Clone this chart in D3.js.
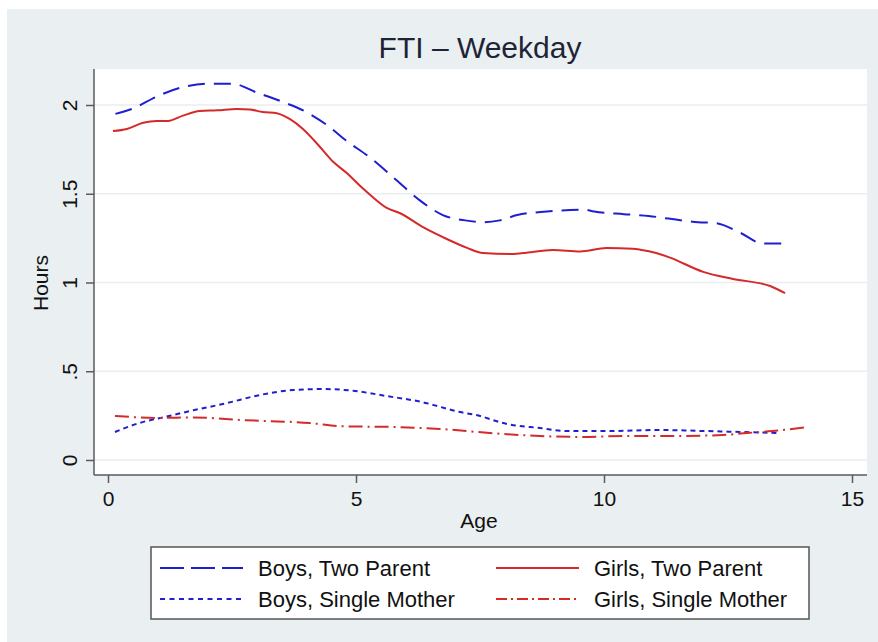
<!DOCTYPE html>
<html>
<head>
<meta charset="utf-8">
<script src="https://cdn.jsdelivr.net/npm/d3@7"></script>
<style>
  body { margin: 0; background: #fff; }
  text { font-family: "Liberation Sans", Arial, sans-serif; }
</style>
</head>
<body>
<div id="chart"></div>
<script>
// Data (age in years, hours)
const boysTwoAges = [0.15, 0.5, 1, 1.5, 2, 2.5, 3, 3.5, 4, 4.4, 4.8, 5.3, 5.8, 6.3, 6.75, 7.2, 7.6, 7.9, 8.25, 8.85, 9.6, 9.8, 10.4, 10.9, 11.3, 11.9, 12.25, 12.75, 13.2, 13.6];
const boysTwoHours = [1.95, 1.98, 2.05, 2.10, 2.12, 2.12, 2.07, 2.02, 1.96, 1.89, 1.80, 1.70, 1.58, 1.46, 1.38, 1.35, 1.34, 1.35, 1.38, 1.40, 1.41, 1.40, 1.385, 1.375, 1.36, 1.34, 1.335, 1.28, 1.22, 1.22];

const girlsTwoAges = [0.1, 0.38, 0.71, 0.98, 1.21, 1.51, 1.85, 2.2, 2.6, 2.86, 3.12, 3.4, 3.67, 3.93, 4.27, 4.54, 4.82, 5.08, 5.3, 5.62, 5.89, 6.36, 6.83, 7.24, 7.56, 8.1, 8.37, 8.97, 9.52, 10.05, 10.58, 10.73, 11.07, 11.33, 12.0, 12.6, 13.35, 13.65];
const girlsTwoHours = [1.853, 1.865, 1.90, 1.91, 1.91, 1.94, 1.966, 1.97, 1.978, 1.975, 1.96, 1.954, 1.92, 1.865, 1.765, 1.68, 1.615, 1.545, 1.49, 1.42, 1.39, 1.31, 1.245, 1.195, 1.166, 1.16, 1.166, 1.183, 1.175, 1.194, 1.19, 1.185, 1.165, 1.14, 1.06, 1.02, 0.98, 0.94];

const boysSingleAges = [0.14, 0.65, 1.11, 1.72, 2.39, 3.06, 3.73, 4.34, 4.94, 5.62, 6.43, 6.69, 7.1, 7.4, 8.04, 8.71, 9.25, 10.05, 11.07, 12.07, 12.74, 13.55];
const boysSingleHours = [0.158, 0.21, 0.24, 0.28, 0.32, 0.366, 0.394, 0.40, 0.39, 0.36, 0.32, 0.30, 0.27, 0.255, 0.203, 0.18, 0.163, 0.163, 0.169, 0.163, 0.158, 0.152];

const girlsSingleAges = [0.14, 1.05, 1.72, 2.72, 4.07, 4.74, 5.75, 6.69, 7.7, 8.71, 9.52, 10.38, 11.4, 12.4, 12.88, 13.4, 14.1];
const girlsSingleHours = [0.248, 0.237, 0.24, 0.225, 0.208, 0.19, 0.186, 0.175, 0.152, 0.135, 0.13, 0.135, 0.135, 0.141, 0.152, 0.163, 0.186];

const seriesNames = ["Boys, Two Parent", "Girls, Two Parent", "Boys, Single Mother", "Girls, Single Mother"];
const xTicks = [0, 5, 10, 15];
const yTicks = [0, 0.5, 1, 1.5, 2];
const yTickLabels = ["0", ".5", "1", "1.5", "2"];

const W = 878, H = 642;
const plot = { left: 94, right: 867, top: 69, bottom: 475 };

const svg = d3.select("#chart")
    .append("svg")
    .attr("width", W)
    .attr("height", H);

// outer graph region
svg.append("rect")
    .attr("x", 7).attr("y", 9)
    .attr("width", W - 7).attr("height", H - 9)
    .attr("fill", "#eaeff2");

// plot region
svg.append("rect")
    .attr("x", plot.left).attr("y", plot.top)
    .attr("width", plot.right - plot.left)
    .attr("height", plot.bottom - plot.top)
    .attr("fill", "#fff");

const x = d3.scaleLinear().domain([0, 15]).range([108, 852]);
const y = d3.scaleLinear().domain([0, 2]).range([460, 105]);

// gridlines
svg.append("g")
    .selectAll("line")
    .data(yTicks)
    .join("line")
    .attr("x1", plot.left).attr("x2", plot.right)
    .attr("y1", d => y(d)).attr("y2", d => y(d))
    .attr("stroke", "#eaeef1")
    .attr("stroke-width", 1.5);

// axes
const xAxis = svg.append("g")
    .attr("transform", `translate(0,${plot.bottom})`)
    .call(d3.axisBottom(x).tickValues(xTicks).tickSize(8).tickPadding(5));

const yAxis = svg.append("g")
    .attr("transform", `translate(${plot.left},0)`)
    .call(d3.axisLeft(y).tickValues(yTicks).tickSize(8)
        .tickFormat((d, i) => yTickLabels[i]));

[xAxis, yAxis].forEach(g => {
    g.select(".domain").remove();
    g.selectAll(".tick line").attr("stroke", "#5a5a5a").attr("stroke-width", 1.5);
    g.selectAll(".tick text").attr("fill", "#111").style("font-size", "21px");
});

xAxis.selectAll(".tick text").attr("dy", "0.85em");

yAxis.selectAll(".tick text")
    .attr("transform", "rotate(-90)")
    .attr("x", 0)
    .attr("y", -17)
    .attr("dy", 0)
    .attr("text-anchor", "middle");

// axis lines
svg.append("line")
    .attr("x1", plot.left).attr("x2", plot.left)
    .attr("y1", plot.top).attr("y2", plot.bottom)
    .attr("stroke", "#5a5a5a").attr("stroke-width", 1.5);
svg.append("line")
    .attr("x1", plot.left).attr("x2", plot.right)
    .attr("y1", plot.bottom).attr("y2", plot.bottom)
    .attr("stroke", "#5a5a5a").attr("stroke-width", 1.5);

// series
const blue = "#1f1fcf";
const red = "#d42a2a";
const series = [
    { name: seriesNames[0], ages: boysTwoAges, vals: boysTwoHours, color: blue, dash: "17,9", legendDash: "24,7" },
    { name: seriesNames[1], ages: girlsTwoAges, vals: girlsTwoHours, color: red, dash: null, legendDash: null },
    { name: seriesNames[2], ages: boysSingleAges, vals: boysSingleHours, color: blue, dash: "5,4", legendDash: "5,4.5" },
    { name: seriesNames[3], ages: girlsSingleAges, vals: girlsSingleHours, color: red, dash: "14,5,2,5", legendDash: "11,4,2,4" }
];

const line = d3.line()
    .x(d => x(d[0]))
    .y(d => y(d[1]))
    .curve(d3.curveMonotoneX);

svg.append("g")
    .selectAll("path")
    .data(series)
    .join("path")
    .attr("d", s => line(s.ages.map((a, i) => [a, s.vals[i]])))
    .attr("fill", "none")
    .attr("stroke", s => s.color)
    .attr("stroke-width", 2)
    .attr("stroke-dasharray", s => s.dash);

// title and axis titles
svg.append("text")
    .attr("x", 480).attr("y", 58)
    .attr("text-anchor", "middle")
    .attr("fill", "#1e2436")
    .style("font-size", "30px")
    .text("FTI \u2013 Weekday");

svg.append("text")
    .attr("x", 479).attr("y", 528)
    .attr("text-anchor", "middle")
    .attr("fill", "#111")
    .style("font-size", "21px")
    .text("Age");

svg.append("text")
    .attr("transform", "translate(48,283) rotate(-90)")
    .attr("text-anchor", "middle")
    .attr("fill", "#111")
    .style("font-size", "21px")
    .text("Hours");

// legend
const legend = svg.append("g");
legend.append("rect")
    .attr("x", 151).attr("y", 547)
    .attr("width", 658).attr("height", 72)
    .attr("fill", "#fff")
    .attr("stroke", "#555")
    .attr("stroke-width", 1.5);

const legX = [160, 496];
const legY = [568, 599];
const items = legend.selectAll("g.item")
    .data(series)
    .join("g")
    .attr("class", "item")
    .attr("transform", (s, i) => `translate(${legX[i % 2]},${legY[Math.floor(i / 2)]})`);

items.append("line")
    .attr("x1", 0).attr("x2", 83)
    .attr("y1", 0).attr("y2", 0)
    .attr("stroke", s => s.color)
    .attr("stroke-width", 2)
    .attr("stroke-dasharray", s => s.legendDash);

items.append("text")
    .attr("x", 98).attr("y", 8)
    .attr("fill", "#111")
    .style("font-size", "22px")
    .text(s => s.name);
</script>
</body>
</html>
